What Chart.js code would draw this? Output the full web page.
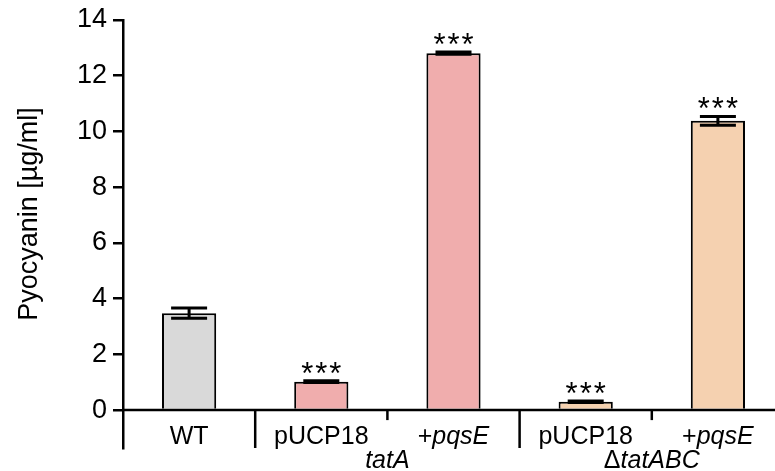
<!DOCTYPE html>
<html lang="en">
<head>
<meta charset="UTF-8">
<title>Pyocyanin production</title>
<script src="https://cdn.jsdelivr.net/npm/chart.js"></script>
<style>
  html, body { margin: 0; padding: 0; background: #fff; overflow: hidden; }
  .wrap { position: relative; width: 784px; height: 471px; }
</style>
</head>
<body>
<div class="wrap"><canvas id="pyo"></canvas></div>
<script>
const strains = ['WT', 'pUCP18', '+pqsE', 'pUCP18', '+pqsE'];
const pyocyanin = [3.48, 1.02, 12.81, 0.30, 10.38];
const sem = [0.18, 0.03, 0.04, 0.03, 0.16];
const signif = ['', '***', '***', '***', '***'];
const yTicks = [0, 2, 4, 6, 8, 10, 12, 14];
const groupNames = ['tatA', 'ΔtatABC'];
const groupStart = [1, 3];

const FONT = '"Liberation Sans", Arial, sans-serif';
const barFill = ['#d9d9d9', '#f0adad', '#f0adad', '#f5d1b0', '#f5d1b0'];

// split a label into upright / italic pieces (gene names italic)
function segs(label) {
  if (label[0] === '+' || label[0] === 'Δ') return [[label[0], false], [label.slice(1), true]];
  if (label === 'tatA') return [[label, true]];
  return [[label, false]];
}
function drawMixed(ctx, label, cx, cy, size) {
  const parts = segs(label);
  let w = 0;
  parts.forEach(p => { ctx.font = (p[1] ? 'italic ' : '') + size + 'px ' + FONT; w += ctx.measureText(p[0]).width; });
  let x = cx - w / 2;
  parts.forEach(p => {
    ctx.font = (p[1] ? 'italic ' : '') + size + 'px ' + FONT;
    ctx.fillText(p[0], x, cy);
    x += ctx.measureText(p[0]).width;
  });
}

const decor = {
  id: 'decor',
  afterDatasetsDraw(chart) {
    const ctx = chart.ctx, ys = chart.scales.y, xs = chart.scales.x, area = chart.chartArea;
    const meta = chart.getDatasetMeta(0);
    const y0 = ys.getPixelForValue(0);
    const step = xs.getPixelForValue(1) - xs.getPixelForValue(0);
    ctx.save();
    ctx.strokeStyle = '#000';
    ctx.fillStyle = '#000';
    ctx.lineWidth = 2.5;

    // x axis line at zero
    ctx.beginPath();
    ctx.moveTo(area.left, y0);
    ctx.lineTo(chart.width, y0);
    ctx.stroke();

    // category dividers: long between groups, short inside a group
    for (let i = 1; i < strains.length; i++) {
      const x = xs.getPixelForValue(i) - step / 2;
      const long = groupStart.includes(i);
      ctx.beginPath();
      ctx.moveTo(x, y0);
      ctx.lineTo(x, long ? area.bottom : y0 + 10);
      ctx.stroke();
    }

    // error bars and stars
    meta.data.forEach((bar, i) => {
      const hi = ys.getPixelForValue(pyocyanin[i] + sem[i]);
      const lo = ys.getPixelForValue(pyocyanin[i] - sem[i]);
      ctx.lineWidth = 3;
      ctx.beginPath();
      ctx.moveTo(bar.x, lo); ctx.lineTo(bar.x, hi);
      ctx.moveTo(bar.x - 18, hi); ctx.lineTo(bar.x + 18, hi);
      ctx.moveTo(bar.x - 18, lo); ctx.lineTo(bar.x + 18, lo);
      ctx.stroke();
      if (signif[i]) {
        ctx.font = '31px ' + FONT;
        ctx.letterSpacing = '2px';
        ctx.textAlign = 'center';
        ctx.textBaseline = 'alphabetic';
        ctx.fillText(signif[i], bar.x + 1, hi + 3);
        ctx.letterSpacing = '0px';
      }
    });

    // category and group labels
    ctx.textAlign = 'left';
    ctx.textBaseline = 'middle';
    strains.forEach((s, i) => drawMixed(ctx, s, xs.getPixelForValue(i), 437, 25));
    groupNames.forEach((g, k) => {
      const x = (xs.getPixelForValue(groupStart[k]) + xs.getPixelForValue(groupStart[k] + 1)) / 2;
      drawMixed(ctx, g, x, 461, 25);
    });

    // y axis title
    ctx.translate(30, 214);
    ctx.rotate(-Math.PI / 2);
    ctx.textAlign = 'center';
    ctx.font = '27px ' + FONT;
    ctx.fillText('Pyocyanin [µg/ml]', 0, 0);
    ctx.restore();
  }
};

new Chart(document.getElementById('pyo'), {
  type: 'bar',
  data: {
    labels: strains,
    datasets: [{
      data: pyocyanin,
      backgroundColor: barFill,
      borderColor: '#000',
      borderWidth: 2,
      barPercentage: 0.41,
      categoryPercentage: 1
    }]
  },
  options: {
    responsive: true,
    maintainAspectRatio: false,
    animation: false,
    layout: { padding: { top: 20, bottom: 23, left: 0, right: 0 } },
    plugins: { legend: { display: false }, tooltip: { enabled: false } },
    scales: {
      x: { display: false },
      y: {
        min: -1.36,
        max: 14,
        afterBuildTicks: s => { s.ticks = yTicks.map(v => ({ value: v })); },
        afterFit: s => { s.width = 123; s.paddingTop = 0; s.paddingBottom = 0; },
        border: { color: '#000', width: 2.5 },
        grid: { drawOnChartArea: false, color: '#000', lineWidth: 2.5, tickLength: 10 },
        ticks: { color: '#000', padding: 6, font: { family: FONT, size: 27 } }
      }
    }
  },
  plugins: [decor]
});
</script>
</body>
</html>
